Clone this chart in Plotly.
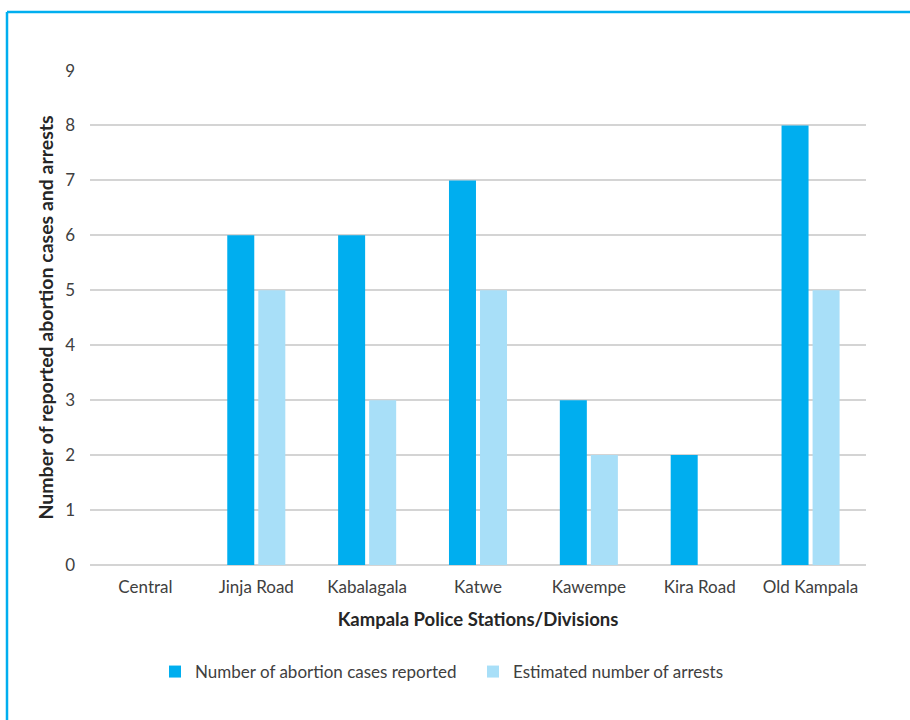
import plotly.graph_objects as go

categories = ["Central", "Jinja Road", "Kabalagala", "Katwe", "Kawempe", "Kira Road", "Old Kampala"]
cases_reported = [0, 6, 6, 7, 3, 2, 8]
arrests = [0, 5, 3, 5, 2, 0, 5]
y_ticks = list(range(0, 10))

FONT = "Lato, 'Open Sans', sans-serif"
TXT = "#404040"
GRID = "#D4D4D4"

fig = go.Figure()
fig.add_trace(go.Bar(x=categories, y=cases_reported, name="Number of abortion cases reported",
                     marker=dict(color="#00AEEF", line=dict(width=0))))
fig.add_trace(go.Bar(x=categories, y=arrests, name="Estimated number of arrests",
                     marker=dict(color="#A8DFF8", line=dict(width=0))))

L, R, T, B = 90, 44, 70, 155
W, H = 910, 720
pw, ph = W - L - R, H - T - B

def px_to_paper_x(px):
    return (px - L) / pw

def px_to_paper_y(py):
    return (H - B - py) / ph

fig.update_layout(
    width=W, height=H,
    margin=dict(l=L, r=R, t=T, b=B),
    paper_bgcolor="white", plot_bgcolor="white",
    barmode="group", bargap=0.44, bargroupgap=0.13,
    font=dict(family=FONT, size=17, color=TXT),
    xaxis=dict(
        title=dict(text="<b>Kampala Police Stations/Divisions</b>", font=dict(size=18.5, color="#262626"), standoff=17),
        showgrid=False, showline=False, ticks="", tickfont=dict(size=17, color=TXT),
        ticklabelstandoff=10,
    ),
    yaxis=dict(
        range=[0, 9.01], tickvals=y_ticks, showgrid=True, gridcolor=GRID, gridwidth=1.6,
        zeroline=True, zerolinecolor=GRID, zerolinewidth=1.6,
        showline=False, ticks="", ticklabelstandoff=14,
        tickfont=dict(size=17, color=TXT),
        title=dict(text="<b>Number of reported abortion cases and arrests</b>", font=dict(size=19.5, color="#262626"), standoff=6),
    ),
    legend=dict(orientation="h", x=px_to_paper_x(155), xanchor="left", y=px_to_paper_y(672), yanchor="middle",
                font=dict(size=17, color=TXT), itemwidth=30, tracegroupgap=0,
                entrywidthmode="pixels", entrywidth=273),
    shapes=[
        dict(type="line", xref="paper", yref="paper", x0=px_to_paper_x(7), x1=px_to_paper_x(915),
             y0=px_to_paper_y(12), y1=px_to_paper_y(12), line=dict(color="#00AEEF", width=2.5)),
        dict(type="line", xref="paper", yref="paper", x0=px_to_paper_x(7), x1=px_to_paper_x(7),
             y0=px_to_paper_y(12), y1=px_to_paper_y(725), line=dict(color="#00AEEF", width=2.5)),
    ],
)

fig.write_html("out.html")
